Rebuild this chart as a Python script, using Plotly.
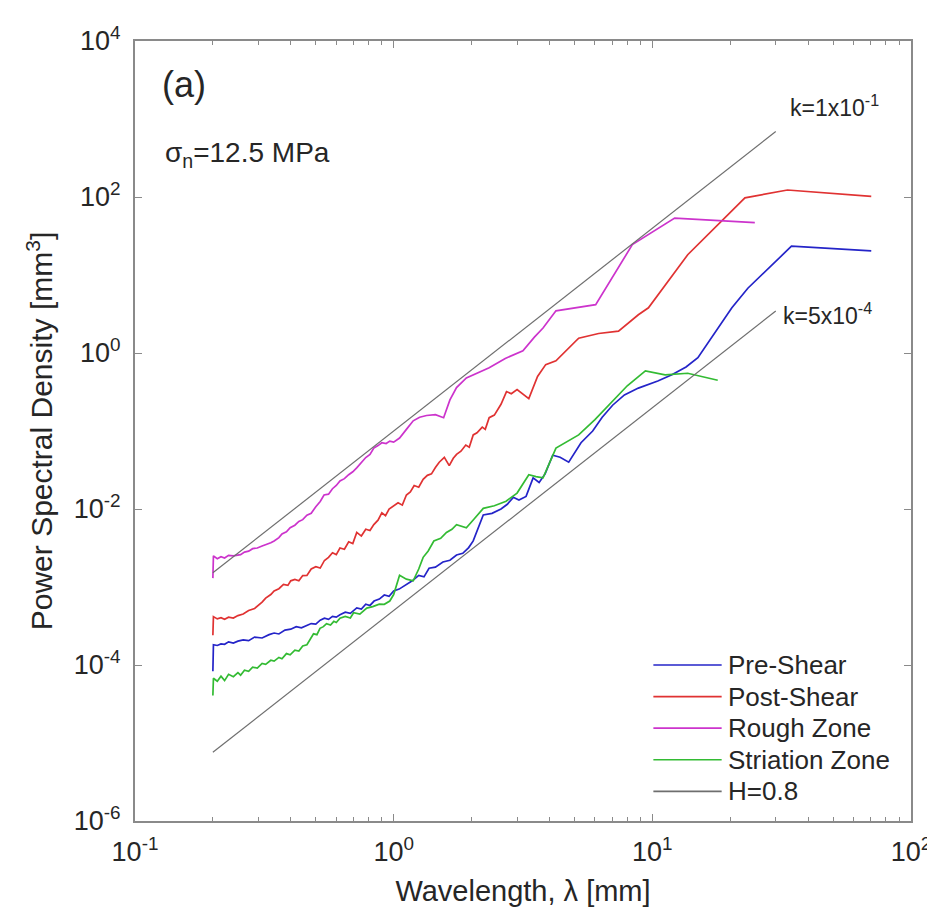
import plotly.graph_objects as go

# ---------------- data ----------------
pre_x = [0.200, 0.201, 0.208, 0.215, 0.222, 0.230, 0.240, 0.250, 0.262, 0.275, 0.29, 0.31, 0.33, 0.345,
         0.36, 0.38, 0.40, 0.42, 0.44, 0.462, 0.48, 0.50, 0.52, 0.54, 0.56, 0.58, 0.60, 0.62, 0.65, 0.68,
         0.72, 0.75, 0.78, 0.81, 0.84, 0.88, 0.92, 0.96, 1.00, 1.05, 1.12, 1.18, 1.25, 1.31, 1.37, 1.45,
         1.55, 1.65, 1.75, 1.85, 1.95, 2.03, 2.22, 2.4, 2.6, 2.75, 2.9, 3.05, 3.25, 3.46, 3.65, 3.85,
         4.12, 4.4, 4.75, 5.3, 5.88, 6.4, 7.02, 7.8, 8.83, 10.5, 11.9, 13.5, 15.0, 17.9, 20.3, 23.4,
         28.5, 34.5, 70.2]
pre_psd = [8.3e-5, 1.82e-4, 1.78e-4, 1.86e-4, 1.84e-4, 1.98e-4, 1.91e-4, 2.02e-4, 2.10e-4, 2.05e-4,
           2.28e-4, 2.22e-4, 2.45e-4, 2.57e-4, 2.50e-4, 2.80e-4, 2.88e-4, 3.10e-4, 3.00e-4, 3.24e-4,
           3.40e-4, 3.35e-4, 3.75e-4, 3.98e-4, 3.85e-4, 4.20e-4, 4.10e-4, 4.40e-4, 4.75e-4, 4.60e-4,
           5.40e-4, 5.20e-4, 6.00e-4, 5.80e-4, 6.60e-4, 7.00e-4, 7.90e-4, 7.60e-4, 8.90e-4, 9.40e-4,
           1.07e-3, 1.20e-3, 1.41e-3, 1.35e-3, 1.74e-3, 1.80e-3, 2.09e-3, 2.20e-3, 2.57e-3, 2.70e-3,
           3.20e-3, 3.90e-3, 8.40e-3, 8.8e-3, 1.0e-2, 1.15e-2, 1.41e-2, 1.30e-2, 1.45e-2, 2.51e-2,
           2.19e-2, 2.82e-2, 4.90e-2, 4.60e-2, 3.98e-2, 7.08e-2, 0.10, 0.15, 0.214, 0.29, 0.355,
           0.437, 0.525, 0.661, 0.871, 2.09, 3.80, 6.76, 12.6, 23.4, 20.4]

post_x = [0.200, 0.201, 0.208, 0.215, 0.222, 0.230, 0.240, 0.250, 0.262, 0.275, 0.29, 0.297, 0.31, 0.32,
          0.335, 0.345, 0.36, 0.375, 0.39, 0.40, 0.415, 0.43, 0.445, 0.462, 0.48, 0.50, 0.52, 0.54, 0.56,
          0.58, 0.60, 0.62, 0.645, 0.67, 0.695, 0.72, 0.75, 0.78, 0.81, 0.838, 0.87, 0.90, 0.93, 0.96,
          1.00, 1.04, 1.08, 1.12, 1.16, 1.2, 1.25, 1.3, 1.35, 1.40, 1.45, 1.50, 1.57, 1.64, 1.70, 1.75,
          1.82, 1.9, 1.96, 2.03, 2.1, 2.2, 2.26, 2.34, 2.45, 2.6, 2.73, 2.85, 3.0, 3.16, 3.33, 3.6, 3.87,
          4.24, 4.7, 5.19, 6.2, 7.40, 8.83, 9.66, 13.7, 18.6, 22.8, 33.3, 70.2]
post_psd = [2.40e-4, 4.17e-4, 3.90e-4, 4.05e-4, 3.85e-4, 4.10e-4, 4.00e-4, 4.30e-4, 4.50e-4, 5.00e-4,
            5.30e-4, 5.62e-4, 6.40e-4, 7.20e-4, 8.00e-4, 8.91e-4, 9.50e-4, 1.08e-3, 1.05e-3, 1.20e-3,
            1.25e-3, 1.20e-3, 1.40e-3, 1.41e-3, 1.70e-3, 1.82e-3, 1.75e-3, 2.19e-3, 2.40e-3, 2.75e-3,
            2.60e-3, 3.16e-3, 3.05e-3, 3.80e-3, 3.60e-3, 5.01e-3, 4.50e-3, 5.50e-3, 5.30e-3, 6.31e-3,
            7.20e-3, 8.91e-3, 8.20e-3, 1.0e-2, 1.10e-2, 1.20e-2, 1.12e-2, 1.51e-2, 1.65e-2, 2.0e-2,
            1.90e-2, 2.40e-2, 2.70e-2, 2.82e-2, 3.40e-2, 3.98e-2, 4.60e-2, 3.60e-2, 4.47e-2, 5.01e-2,
            5.50e-2, 6.61e-2, 6.20e-2, 8.91e-2, 9.50e-2, 0.112, 0.105, 0.148, 0.16, 0.22, 0.32, 0.30,
            0.34, 0.30, 0.26, 0.50, 0.71, 0.794, 1.10, 1.55, 1.78, 1.91, 3.09, 3.80, 18.2, 49.0, 97.7,
            123.0, 102.0]

rough_x = [0.200, 0.201, 0.208, 0.215, 0.222, 0.230, 0.240, 0.256, 0.265, 0.275, 0.285, 0.297, 0.31,
           0.32, 0.335, 0.345, 0.36, 0.37, 0.385, 0.398, 0.415, 0.43, 0.445, 0.462, 0.48, 0.50, 0.52,
           0.538, 0.56, 0.58, 0.60, 0.62, 0.645, 0.67, 0.695, 0.721, 0.75, 0.78, 0.81, 0.838, 0.87,
           0.90, 0.935, 0.966, 1.00, 1.054, 1.12, 1.19, 1.26, 1.34, 1.45, 1.56, 1.65, 1.75, 1.91, 2.1,
           2.34, 2.7, 3.16, 3.5, 3.78, 4.24, 5.0, 6.04, 8.37, 12.2, 24.9]
rough_psd = [1.30e-3, 2.51e-3, 2.30e-3, 2.45e-3, 2.35e-3, 2.55e-3, 2.50e-3, 2.60e-3, 2.80e-3, 2.88e-3,
             3.10e-3, 3.16e-3, 3.35e-3, 3.47e-3, 3.70e-3, 3.89e-3, 4.30e-3, 4.79e-3, 5.10e-3, 5.75e-3,
             6.20e-3, 6.92e-3, 7.30e-3, 8.32e-3, 8.80e-3, 1.07e-2, 1.25e-2, 1.51e-2, 1.55e-2, 1.82e-2,
             2.00e-2, 2.29e-2, 2.45e-2, 2.75e-2, 3.00e-2, 3.39e-2, 4.00e-2, 4.57e-2, 5.00e-2, 6.03e-2,
             6.50e-2, 7.08e-2, 6.90e-2, 7.41e-2, 7.20e-2, 8.13e-2, 0.105, 0.135, 0.150, 0.158, 0.162,
             0.148, 0.25, 0.36, 0.479, 0.55, 0.646, 0.85, 1.07, 1.6, 2.09, 3.47, 3.8, 4.17, 24.5, 53.7,
             46.8]

stri_x = [0.200, 0.201, 0.208, 0.215, 0.222, 0.230, 0.240, 0.250, 0.256, 0.265, 0.275, 0.285, 0.297,
          0.31, 0.32, 0.335, 0.345, 0.36, 0.37, 0.385, 0.398, 0.415, 0.43, 0.445, 0.462, 0.48, 0.49,
          0.505, 0.519, 0.535, 0.55, 0.57, 0.587, 0.60, 0.62, 0.65, 0.68, 0.70, 0.74, 0.787, 0.83, 0.88,
          0.92, 0.966, 1.00, 1.054, 1.12, 1.19, 1.25, 1.3, 1.36, 1.43, 1.52, 1.6, 1.68, 1.75, 1.82, 1.91,
          2.05, 2.22, 2.45, 2.72, 3.0, 3.33, 3.55, 3.78, 4.24, 5.19, 6.0, 7.02, 8.0, 9.40, 11.2, 13.7,
          17.9]
stri_psd = [4.07e-5, 6.76e-5, 6.20e-5, 7.20e-5, 6.31e-5, 7.60e-5, 7.08e-5, 8.00e-5, 7.41e-5, 8.60e-5,
            8.32e-5, 9.40e-5, 9.12e-5, 1.05e-4, 1.02e-4, 1.15e-4, 1.12e-4, 1.25e-4, 1.20e-4, 1.40e-4,
            1.35e-4, 1.55e-4, 1.51e-4, 1.75e-4, 1.82e-4, 2.30e-4, 2.51e-4, 2.45e-4, 2.95e-4, 3.10e-4,
            3.39e-4, 3.25e-4, 3.63e-4, 3.50e-4, 3.98e-4, 4.20e-4, 4.00e-4, 4.68e-4, 4.50e-4, 5.37e-4,
            5.60e-4, 6.03e-4, 6.00e-4, 6.61e-4, 8.00e-4, 1.41e-3, 1.26e-3, 1.20e-3, 1.70e-3, 2.40e-3,
            2.90e-3, 3.89e-3, 4.20e-3, 5.01e-3, 5.50e-3, 6.31e-3, 6.00e-3, 5.75e-3, 7.50e-3, 1.02e-2,
            1.10e-2, 1.26e-2, 1.60e-2, 2.75e-2, 2.60e-2, 2.51e-2, 6.03e-2, 8.91e-2, 0.14, 0.240, 0.38,
            0.589, 0.525, 0.550, 0.447]

# H = 0.8 reference lines (end points)
ref_x = [0.2, 30.0]
ref_upper_psd = [1.52e-3, 692.0]   # k = 1x10^-1
ref_lower_psd = [7.6e-6, 3.46]     # k = 5x10^-4

series_names = ["Pre-Shear", "Post-Shear", "Rough Zone", "Striation Zone"]
legend_labels = series_names + ["H=0.8"]

x_tickvals = [0.1, 1, 10, 100]
x_ticktext = ["10<sup>-1</sup>", "10<sup>0</sup>", "10<sup>1</sup>", "10<sup>2</sup>"]
x_minorvals = [m * d for d in (0.1, 1, 10) for m in range(2, 10)]
y_tickvals = [1e-6, 1e-4, 1e-2, 1, 1e2, 1e4]
y_ticktext = ["10<sup>-6</sup>", "10<sup>-4</sup>", "10<sup>-2</sup>", "10<sup>0</sup>",
              "10<sup>2</sup>", "10<sup>4</sup>"]

# ---------------- figure ----------------
FONT = "Liberation Sans, Arial, Helvetica, sans-serif"
TXT = "#262626"
AX = "#8a8a8a"
GRAY = "#6e6e6e"

colors = ["#2424c8", "#e03232", "#cc33cc", "#33bb33"]
fig = go.Figure()
for name, xs, ys, c in zip(series_names, [pre_x, post_x, rough_x, stri_x],
                           [pre_psd, post_psd, rough_psd, stri_psd], colors):
    fig.add_trace(go.Scatter(x=xs, y=ys, mode="lines", name=name,
                             line=dict(color=c, width=1.7)))
fig.add_trace(go.Scatter(x=ref_x, y=ref_upper_psd, mode="lines", name="H=0.8",
                         line=dict(color=GRAY, width=1.2)))
fig.add_trace(go.Scatter(x=ref_x, y=ref_lower_psd, mode="lines", name="H=0.8",
                         line=dict(color=GRAY, width=1.2)))

axis_common = dict(type="log", showgrid=False, zeroline=False, showline=True,
                   linecolor=AX, linewidth=2, mirror="ticks", ticks="inside",
                   ticklen=7, tickwidth=1, tickcolor=AX,
                   tickfont=dict(family=FONT, size=27, color=TXT))

fig.update_xaxes(range=[-1, 2], tickmode="array", tickvals=x_tickvals, ticktext=x_ticktext,
                 minor=dict(tickmode="array", tickvals=x_minorvals, ticks="inside",
                            ticklen=4, tickcolor=AX, showgrid=False),
                 ticklabelstandoff=6,
                 title=dict(text="Wavelength, λ [mm]", font=dict(family=FONT, size=29, color=TXT),
                            standoff=14),
                 **axis_common)
fig.update_yaxes(range=[-6, 4], tickmode="array", tickvals=y_tickvals, ticktext=y_ticktext,
                 ticklabelstandoff=7,
                 title=dict(text="Power Spectral Density [mm<sup>3</sup>]",
                            font=dict(family=FONT, size=30, color=TXT), standoff=12),
                 **axis_common)

fig.add_annotation(text="(a)", xref="paper", yref="paper", x=0.063, y=0.944,
                   xanchor="center", yanchor="middle",
                   showarrow=False, font=dict(family=FONT, size=36, color=TXT))
fig.add_annotation(text="σ<sub>n</sub>=12.5 MPa", xref="paper", yref="paper", x=0.036, y=0.855,
                   xanchor="left", yanchor="middle",
                   showarrow=False, font=dict(family=FONT, size=28, color=TXT))
fig.add_annotation(text="k=1x10<sup>-1</sup>", xref="paper", yref="paper", x=0.842, y=0.917,
                   xanchor="left", yanchor="middle",
                   showarrow=False, font=dict(family=FONT, size=23, color=TXT))
fig.add_annotation(text="k=5x10<sup>-4</sup>", xref="paper", yref="paper", x=0.832, y=0.650,
                   xanchor="left", yanchor="middle",
                   showarrow=False, font=dict(family=FONT, size=23, color=TXT))

# legend drawn as sample lines + labels (compact MATLAB-style legend)
legend_colors = colors + [GRAY]
row_y = [0.200, 0.1595, 0.119, 0.0785, 0.038]
for lab, col, yy in zip(legend_labels, legend_colors, row_y):
    fig.add_shape(type="line", xref="paper", yref="paper", x0=0.668, x1=0.756, y0=yy, y1=yy,
                  line=dict(color=col, width=1.7))
    fig.add_annotation(text=lab, xref="paper", yref="paper", x=0.762, y=yy,
                       xanchor="left", yanchor="middle", showarrow=False,
                       font=dict(family=FONT, size=26, color=TXT))

fig.update_layout(
    width=935, height=908,
    margin=dict(l=127, r=28, t=33, b=95),
    paper_bgcolor="white", plot_bgcolor="white",
    showlegend=False,
)

fig.write_html("out.html")
